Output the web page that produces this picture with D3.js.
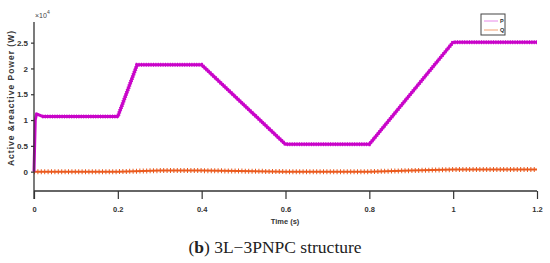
<!DOCTYPE html>
<html>
<head>
<meta charset="utf-8">
<script src="https://cdn.jsdelivr.net/npm/d3@7"></script>
<style>
  body { margin: 0; background: #fff; }
  svg text { font-family: 'Liberation Sans Narrow', 'Liberation Sans', Arial, sans-serif; }
</style>
</head>
<body>
<div class="canvas"></div>
<script>
// series breakpoints (time in s, power in units of 1e4 W)
const pTime = [0, 0.003, 0.006, 0.02, 0.2, 0.246, 0.4, 0.6, 0.8, 1.0, 1.2]
const pValue = [0, 1.0, 1.12, 1.07, 1.07, 2.07, 2.07, 0.53, 0.53, 2.51, 2.51]
const qTime = [0, 0.2, 0.3, 0.4, 0.6, 0.8, 0.9, 1.0, 1.2]
const qValue = [0, 0.0, 0.02, 0.02, 0.0, 0.0, 0.02, 0.04, 0.04]
const xTicks = [0, 0.2, 0.4, 0.6, 0.8, 1, 1.2]
const yTicks = [0, 0.5, 1, 1.5, 2, 2.5]
const seriesNames = ['P', 'Q']

const pData = pTime.map((t, i) => ({ t, v: pValue[i] }))
const qData = qTime.map((t, i) => ({ t, v: qValue[i] }))

const dimensions = {
  width: 550,
  height: 263,
  left: 34,
  right: 537,
  top: 22,
  bottom: 191,
}

const svg = d3
  .select('.canvas')
  .append('svg')
  .attr('width', dimensions.width)
  .attr('height', dimensions.height)

// scales
const x = d3.scaleLinear().domain([0, 1.2]).range([dimensions.left, dimensions.right])
const y = d3.scaleLinear().domain([-0.375, 2.9]).range([dimensions.bottom, dimensions.top])

const line = d3
  .line()
  .x((d) => x(d.t))
  .y((d) => y(d.v))

const pColor = '#c905c9'
const qColor = '#ea5a1e'

// Q line with ripple texture
svg.append('path').datum(qData)
  .attr('fill', 'none').attr('stroke', qColor).attr('stroke-width', 2)
  .attr('d', line)
svg.append('path').datum(qData)
  .attr('fill', 'none').attr('stroke', qColor).attr('stroke-width', 5)
  .attr('stroke-dasharray', '1 2.4')
  .attr('d', line)

// P line with ripple texture
svg.append('path').datum(pData)
  .attr('fill', 'none').attr('stroke', pColor).attr('stroke-width', 3)
  .attr('stroke-linejoin', 'round')
  .attr('d', line)
svg.append('path').datum(pData.slice(3))
  .attr('fill', 'none').attr('stroke', pColor).attr('stroke-width', 4)
  .attr('stroke-dasharray', '1 1.4')
  .attr('d', line)

// axes
const axisColor = '#333'
const xAxis = svg.append('g')
  .attr('transform', `translate(0, ${dimensions.bottom})`)
  .call(d3.axisBottom(x).tickValues(xTicks).tickSize(8).tickPadding(8)
    .tickFormat((d) => d3.format('')(d)))
xAxis.select('.domain').attr('stroke', axisColor).attr('stroke-width', 1.3)
  .attr('d', `M${dimensions.left},0H${dimensions.right}`)
xAxis.selectAll('line').attr('stroke', axisColor).attr('stroke-width', 1.2)
xAxis.selectAll('text').attr('font-size', 7.5).attr('font-weight', 'bold').attr('fill', '#333')

const yAxis = svg.append('g')
  .attr('transform', `translate(${dimensions.left}, 0)`)
  .call(d3.axisLeft(y).tickValues(yTicks).tickSize(3).tickPadding(3)
    .tickFormat((d) => d3.format('')(d)))
yAxis.select('.domain').attr('stroke', axisColor).attr('stroke-width', 1.3)
  .attr('d', `M0,${dimensions.top}V${dimensions.bottom + 8}`)
yAxis.selectAll('line').attr('stroke', axisColor).attr('stroke-width', 1.2)
yAxis.selectAll('text').attr('font-size', 8).attr('font-weight', 'bold').attr('fill', '#333')

// exponent label
const expLabel = svg.append('text')
  .attr('x', 35).attr('y', 18)
  .attr('font-size', 7).attr('fill', '#444')
expLabel.append('tspan').text('×10')
expLabel.append('tspan').attr('dy', -4).attr('font-size', 5).text('4')

// axis titles
svg.append('text')
  .attr('x', 285).attr('y', 224)
  .attr('text-anchor', 'middle')
  .attr('font-size', 7.5).attr('font-weight', 'bold').attr('fill', '#333')
  .text('Time (s)')
svg.append('text')
  .attr('transform', 'translate(14, 98) rotate(-90)')
  .attr('text-anchor', 'middle')
  .attr('font-size', 8.5).attr('font-weight', 'bold').attr('fill', '#333')
  .attr('letter-spacing', 1)
  .text('Active &reactive Power (W)')

// legend
const legend = svg.append('g').attr('transform', 'translate(481, 14)')
legend.append('rect')
  .attr('width', 24).attr('height', 21)
  .attr('fill', '#fff').attr('stroke', '#444').attr('stroke-width', 1)
const legendColors = ['#e88ae8', '#f2a070']
seriesNames.forEach((name, i) => {
  legend.append('line')
    .attr('x1', 3).attr('x2', 17)
    .attr('y1', 7 + i * 9).attr('y2', 7 + i * 9)
    .attr('stroke', legendColors[i]).attr('stroke-width', 1)
  legend.append('text')
    .attr('x', 19).attr('y', 9 + i * 9)
    .attr('font-size', 5.5).attr('font-weight', 'bold').attr('fill', '#333')
    .text(name)
})

// caption
const caption = svg.append('text')
  .attr('x', 275).attr('y', 253)
  .attr('text-anchor', 'middle')
  .attr('font-size', 17.5)
  .attr('fill', '#222')
  .style('font-family', "'Liberation Serif', 'DejaVu Serif', serif")
caption.append('tspan').text('(')
caption.append('tspan').attr('font-weight', 'bold').text('b')
caption.append('tspan').text(') 3L\u22123PNPC structure')
</script>
</body>
</html>
